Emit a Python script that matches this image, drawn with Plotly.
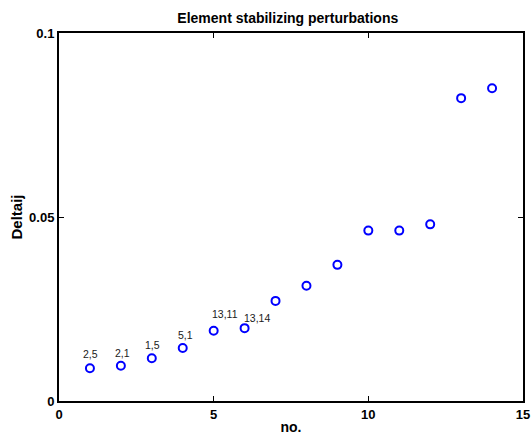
import plotly.graph_objects as go

# Perturbation index and the resulting Deltaij value
idx = [1, 2, 3, 4, 5, 6, 7, 8, 9, 10, 11, 12, 13, 14]
deltaij = [0.0089, 0.0096, 0.0116, 0.0144, 0.0191, 0.0198, 0.0272,
           0.0313, 0.0370, 0.0463, 0.0463, 0.0480, 0.0823, 0.0850]

# Element pairs annotated on the first few points
pair_labels = ["2,5", "2,1", "1,5", "5,1", "13,11", "13,14"]
label_dx = [1, 2, 1, 3, 11, 12]
label_dy = [14, 13, 13, 13, 17, 10]

x_ticks = [0, 5, 10, 15]
y_ticks = [0, 0.05, 0.1]
y_tick_text = ["0", "0.05", "0.1"]

font_family = "Liberation Sans, Arial, Helvetica, sans-serif"

fig = go.Figure()
fig.add_trace(go.Scatter(
    x=idx, y=deltaij, mode="markers",
    marker=dict(symbol="circle-open", size=8, color="#0000ff",
                line=dict(width=2, color="#0000ff")),
    showlegend=False, hoverinfo="x+y",
))

for i, lab in enumerate(pair_labels):
    fig.add_annotation(
        x=idx[i], y=deltaij[i], text=lab, showarrow=False,
        xshift=label_dx[i], yshift=label_dy[i],
        font=dict(family=font_family, size=10.5, color="#1a1a1a"),
    )

axis_common = dict(
    showgrid=False, zeroline=False, showline=True, linecolor="black",
    linewidth=2, mirror="ticks", ticks="inside", ticklen=5, tickwidth=1,
    tickcolor="black", automargin=False,
    tickfont=dict(family=font_family, size=13, color="black", weight="bold"),
)

fig.update_layout(
    width=532, height=435,
    margin=dict(l=59, r=9, t=33, b=34),
    paper_bgcolor="white", plot_bgcolor="white",
    title=dict(text="<b>Element stabilizing perturbations</b>",
               x=0.541, xanchor="center", y=0.958, yanchor="middle",
               font=dict(family=font_family, size=14, color="black")),
    xaxis=dict(range=[0, 15], tickvals=x_ticks,
               title=dict(text="<b>no.</b>", standoff=2,
                          font=dict(family=font_family, size=14, color="black")),
               **axis_common),
    yaxis=dict(range=[0, 0.1], tickvals=y_ticks, ticktext=y_tick_text,
               title=dict(text="<b>Deltaij</b>", standoff=3,
                          font=dict(family=font_family, size=15, color="black")),
               **axis_common),
)

fig.write_html("out.html")
